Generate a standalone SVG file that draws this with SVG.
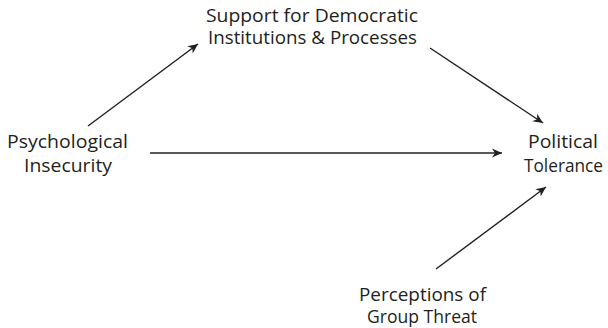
<svg xmlns="http://www.w3.org/2000/svg" width="608" height="328" viewBox="0 0 608 328">
  <style>
    .lbl { font-family: "Open Sans", "Noto Sans", sans-serif; font-size: 18px; fill: #231f20; text-anchor: middle; }
    .edge { stroke: #231f20; stroke-width: 1.4; fill: none; marker-end: url(#arrow); }
  </style>
  <defs>
    <marker id="arrow" viewBox="0 0 10 10" refX="10" refY="5" markerWidth="10" markerHeight="10" markerUnits="userSpaceOnUse" orient="auto">
      <path d="M0,0.5 L10,5 L0,9.5 L3,5 Z" fill="#231f20"/>
    </marker>
  </defs>
  <rect width="608" height="328" fill="#ffffff"/>
  <g id="connectors">
    <line class="edge" x1="88" y1="126" x2="198" y2="44"/>
    <line class="edge" x1="430" y1="48" x2="543" y2="123"/>
    <line class="edge" x1="150" y1="153" x2="502" y2="153"/>
    <line class="edge" x1="436" y1="269" x2="546" y2="187"/>
  </g>
  <g id="support">
    <text class="lbl" x="312" y="22" textLength="212" lengthAdjust="spacingAndGlyphs">Support for Democratic</text>
    <text class="lbl" x="312.5" y="44" textLength="209" lengthAdjust="spacingAndGlyphs">Institutions &amp; Processes</text>
  </g>
  <g id="insecurity">
    <text class="lbl" x="67.5" y="148" textLength="121" lengthAdjust="spacingAndGlyphs">Psychological</text>
    <text class="lbl" x="68" y="172" textLength="88" lengthAdjust="spacingAndGlyphs">Insecurity</text>
  </g>
  <g id="tolerance">
    <text class="lbl" x="563" y="148" textLength="70" lengthAdjust="spacingAndGlyphs">Political</text>
    <text class="lbl" x="563.5" y="172" textLength="79" lengthAdjust="spacingAndGlyphs">Tolerance</text>
  </g>
  <g id="threat">
    <text class="lbl" x="422.5" y="301" textLength="127" lengthAdjust="spacingAndGlyphs">Perceptions of</text>
    <text class="lbl" x="422" y="323" textLength="110" lengthAdjust="spacingAndGlyphs">Group Threat</text>
  </g>
</svg>
